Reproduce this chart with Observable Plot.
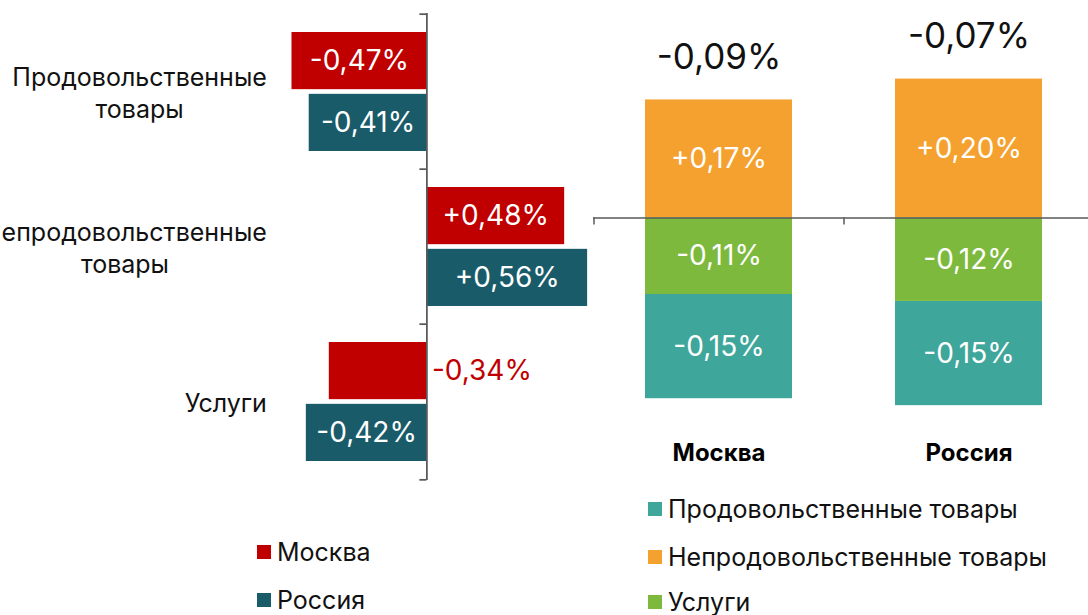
<!DOCTYPE html>
<html><head><meta charset="utf-8">
<script src="https://cdn.jsdelivr.net/npm/d3@7"></script>
<script src="https://cdn.jsdelivr.net/npm/@observablehq/plot@0.6"></script>
<style>
html,body{margin:0;padding:0;background:#fff;overflow:hidden}
#root{position:relative;width:1088px;height:615px;overflow:hidden;font-family:Inter,sans-serif}
.abs{position:absolute;top:0}
.leg{position:absolute;display:flex;align-items:center;height:32px;font-size:25px;color:#111;white-space:nowrap}
.sw{width:14px;height:14px;margin-right:6px;flex:none}
</style></head><body><div id="root"></div>
<script>
// ---- data ----
const categories = ["Продовольственные\nтовары", "Непродовольственные\nтовары", "Услуги"];
const regions = ["Москва", "Россия"];
const moscowByCategory = [-0.47, 0.48, -0.34];
const russiaByCategory = [-0.41, 0.56, -0.42];
const contribCategories = ["Продовольственные товары", "Непродовольственные товары", "Услуги"];
const moscowContrib = [-0.15, 0.17, -0.11];
const russiaContrib = [-0.15, 0.20, -0.12];
const totals = [-0.09, -0.07];
const regionColors = ["#C00000", "#1A5B6A"];
const contribColors = ["#3FA69B", "#F4A130", "#7DB93D"];

// ---- helpers ----
const FONT = 'Inter, sans-serif';
const fmt = v => (v > 0 ? "+" : v < 0 ? "-" : "") + Math.abs(v).toFixed(2).replace(".", ",") + "%";
const ctx = document.createElement("canvas").getContext("2d");
const measure = (s, size, weight = 400) => { ctx.font = `${weight} ${size}px ${FONT}`; return ctx.measureText(s).width; };
const root = document.getElementById("root");

// ---- left chart ----
const leftData = [];
categories.forEach((c, i) => {
  leftData.push({category: c, region: regions[0], value: moscowByCategory[i]});
  leftData.push({category: c, region: regions[1], value: russiaByCategory[i]});
});
const LW = 590, LH = 500, LmL = 280, LmR = 0, LmT = 13, LmB = 20;
const xDomL = [-0.51, 0.57];
const kL = (LW - LmL - LmR) / (xDomL[1] - xDomL[0]);
const stepL = (LH - LmT - LmB) / categories.length;
const padOuter = 18, gap = 4;
const barH = (stepL - 2 * padOuter - gap) / 2;
const dyM = padOuter + barH / 2 - stepL / 2;
const dyR = stepL / 2 - padOuter - barH / 2;
const valSize = 28, catSize = 25;
const inside = d => measure(fmt(d.value), valSize) + 10 <= Math.abs(d.value) * kL;
const byRegion = r => leftData.filter(d => d.region === r);

const catMarks = categories.map(c => {
  const w = d3.max(c.split("\n"), s => measure(s, catSize));
  return Plot.text([c], {x: () => 0, y: d => d, text: d => d, textAnchor: "middle", lineAnchor: "middle",
    lineHeight: 1.28, fontSize: catSize, fill: "#111", dx: -(426 - 266) - w / 2});
});

const left = Plot.plot({
  width: LW, height: LH, marginLeft: LmL, marginRight: LmR, marginTop: LmT, marginBottom: LmB,
  style: {fontFamily: FONT, background: "transparent", overflow: "visible"},
  x: {domain: xDomL, axis: null},
  y: {domain: categories, padding: 0, axis: null},
  color: {domain: regions, range: regionColors},
  marks: [
    Plot.barX(byRegion(regions[0]), {x: "value", y: "category", fill: "region", insetTop: padOuter, insetBottom: stepL - padOuter - barH}),
    Plot.barX(byRegion(regions[1]), {x: "value", y: "category", fill: "region", insetTop: padOuter + barH + gap, insetBottom: padOuter}),
    Plot.text(byRegion(regions[0]).filter(inside), {x: d => d.value / 2, y: "category", text: d => fmt(d.value), fill: "white", fontSize: valSize, dy: dyM}),
    Plot.text(byRegion(regions[1]).filter(inside), {x: d => d.value / 2, y: "category", text: d => fmt(d.value), fill: "white", fontSize: valSize, dy: dyR}),
    Plot.text(byRegion(regions[0]).filter(d => !inside(d)), {x: () => 0, y: "category", text: d => fmt(d.value), fill: regionColors[0], fontSize: valSize, textAnchor: "start", dx: 5, dy: dyM}),
    Plot.text(byRegion(regions[1]).filter(d => !inside(d)), {x: () => 0, y: "category", text: d => fmt(d.value), fill: regionColors[1], fontSize: valSize, textAnchor: "start", dx: 5, dy: dyR}),
    Plot.ruleX([0], {stroke: "#595959", strokeWidth: 1.75}),
    Plot.ruleY(categories, {y: d => d, x1: -7 / kL, x2: 0, dy: -stepL / 2, stroke: "#595959", strokeWidth: 1.75}),
    Plot.ruleY(categories.slice(-1), {y: d => d, x1: -7 / kL, x2: 0, dy: stepL / 2, stroke: "#595959", strokeWidth: 1.75}),
    ...catMarks
  ]
});
left.classList.add("abs");
left.style.left = "0px";
root.appendChild(left);

// ---- right chart ----
const rightData = [];
contribCategories.forEach((c, i) => {
  rightData.push({region: regions[0], category: c, value: moscowContrib[i]});
  rightData.push({region: regions[1], category: c, value: russiaContrib[i]});
});
const stackOrder = [contribCategories[1], contribCategories[2], contribCategories[0]];
const totalData = regions.map((r, i) => ({
  region: r, total: totals[i],
  top: d3.sum(rightData.filter(d => d.region === r && d.value > 0), d => d.value)
}));
const RW = 500, RH = 483, RmT = 23, RmB = 57;
const yDomR = [-0.3, 0.28];
const kR = (RH - RmT - RmB) / (yDomR[1] - yDomR[0]);
const stepR = RW / regions.length;
const right = Plot.plot({
  width: RW, height: RH, marginLeft: 0, marginRight: 0, marginTop: RmT, marginBottom: RmB,
  style: {fontFamily: FONT, background: "transparent", overflow: "visible"},
  x: {domain: regions, paddingInner: 0.412, paddingOuter: 0.206, label: null},
  y: {domain: yDomR, axis: null},
  color: {domain: contribCategories, range: contribColors},
  marks: [
    Plot.barY(rightData, {x: "region", y: "value", fill: "category", order: stackOrder}),
    Plot.text(rightData, Plot.stackY({x: "region", y: "value", z: "category", order: stackOrder, text: d => fmt(d.value), fill: "white", fontSize: valSize})),
    Plot.text(totalData, {x: "region", y: "top", text: d => fmt(d.total), dy: -42, fontSize: 35, fill: "#111"}),
    Plot.ruleY([0], {stroke: "#595959", strokeWidth: 1.5}),
    Plot.ruleX(regions, {x: d => d, y1: 0, y2: -7 / kR, dx: -stepR / 2, stroke: "#595959", strokeWidth: 1.5}),
    Plot.ruleX(regions.slice(-1), {x: d => d, y1: 0, y2: -7 / kR, dx: stepR / 2, stroke: "#595959", strokeWidth: 1.5}),
    Plot.axisX({tickSize: 0, tickPadding: 17, fontSize: 24, fontWeight: "bold", fill: "#000", label: null})
  ]
});
right.classList.add("abs");
right.style.left = "593px";
root.appendChild(right);

// ---- legends ----
function legend(items, colors, leftPx, centers) {
  items.forEach((t, i) => {
    const row = document.createElement("div");
    row.className = "leg";
    row.style.left = leftPx + "px";
    row.style.top = (centers[i] - 16) + "px";
    const sw = document.createElement("div");
    sw.className = "sw"; sw.style.background = colors[i];
    const tx = document.createElement("span"); tx.textContent = t;
    row.appendChild(sw); row.appendChild(tx);
    root.appendChild(row);
  });
}
legend(regions, regionColors, 257, [552, 600]);
legend(contribCategories, contribColors, 648, [509, 557, 602]);
</script></body></html>
